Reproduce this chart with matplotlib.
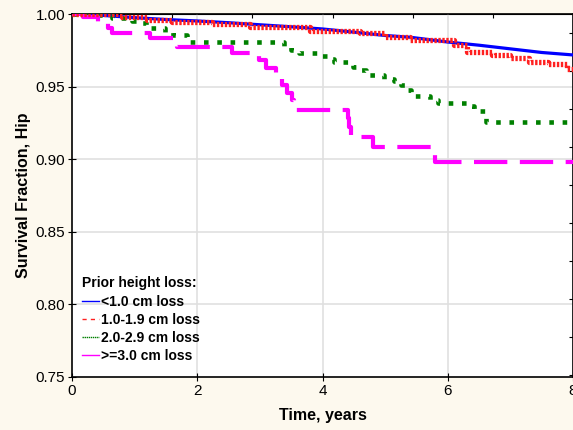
import numpy as np
import matplotlib
matplotlib.use('Agg')
from matplotlib import pyplot as plt
from matplotlib.lines import Line2D

plt.rcParams['font.family'] = ['Liberation Sans', 'DejaVu Sans']

# survival curves (time in years, survival fraction)
t_lt1 = [0, 0.5, 1.0, 1.5, 2.0, 2.5, 2.85, 3.5, 4.0, 4.5, 5.0, 5.4, 6.0, 6.5, 7.0, 7.5, 8.0]
s_lt1 = [1.0, 0.999, 0.9975, 0.9962, 0.9952, 0.994, 0.993, 0.9912, 0.9897, 0.9875, 0.9852, 0.984,
         0.9807, 0.9785, 0.976, 0.9735, 0.9718]

t_1to2 = [0, 0.8, 1.2, 1.6, 2.24, 2.85, 3.8, 4.6, 5.0, 5.4, 6.1, 6.3, 6.7, 7.0, 7.3, 7.6, 7.9, 8.0]
s_1to2 = [1.0, 0.998, 0.9959, 0.9947, 0.9931, 0.9912, 0.9885, 0.9869, 0.9844, 0.9821, 0.9786,
          0.9738, 0.9717, 0.9697, 0.9669, 0.9655, 0.9621, 0.9621]

t_2to3 = [0, 0.29, 0.64, 0.96, 1.09, 1.18, 1.49, 1.62, 1.84, 3.38, 3.50, 3.62, 3.94, 4.08, 4.19,
          4.48, 4.59, 4.70, 4.98, 5.14, 5.25, 5.34, 5.42, 5.71, 5.84, 6.34, 6.42, 6.61, 8.0]
s_2to3 = [1.0, 0.9993, 0.9972, 0.995, 0.9938, 0.9904, 0.9876, 0.9855, 0.9807, 0.978, 0.9752,
          0.9731, 0.9711, 0.969, 0.9669, 0.9635, 0.9614, 0.958, 0.9552, 0.9539, 0.9511, 0.9477,
          0.9435, 0.9408, 0.9387, 0.9366, 0.9332, 0.9256, 0.9256]

t_ge3 = [0, 0.18, 0.42, 0.58, 0.64, 1.25, 1.68, 2.56, 2.98, 3.10, 3.26, 3.36, 3.44, 3.52, 3.54,
         4.40, 4.42, 4.45, 4.80, 4.81, 5.80, 8.0]
s_ge3 = [1.0, 0.9979, 0.9938, 0.9904, 0.9869, 0.9835, 0.9773, 0.9731, 0.9683, 0.9628, 0.9559,
         0.9511, 0.9456, 0.9408, 0.9339, 0.9284, 0.9222, 0.9153, 0.9119, 0.9084, 0.898, 0.898]

labels = ['<1.0 cm loss', '1.0-1.9 cm loss', '2.0-2.9 cm loss', '>=3.0 cm loss']
colors = ['#0000ff', '#ff2020', '#008000', '#ff00ff']

bg = '#fdf9ee'
fig = plt.figure(figsize=(5.73, 4.30), dpi=100, facecolor=bg)
ax = fig.add_axes([72 / 573, 1 - 377 / 430, 501 / 573, 363 / 430])
ax.set_facecolor('white')

ax.plot(t_lt1, s_lt1, color=colors[0], lw=2.3, solid_capstyle='butt', zorder=3)
ax.plot(t_1to2, s_1to2, color=colors[1], lw=3.8, drawstyle='steps-post',
        linestyle=(0, (0.45, 0.3)), dash_capstyle='butt', zorder=4)
ax.plot(t_2to3, s_2to3, color=colors[2], lw=3.3, drawstyle='steps-post',
        linestyle=(0, (1, 1.9)), dash_capstyle='butt', zorder=3)
ax.plot(t_ge3, s_ge3, color=colors[3], lw=3.0, drawstyle='steps-post',
        linestyle=(0, (8, 3)), dash_capstyle='butt', zorder=3)

ax.set_xlim(0, 8)
ax.set_ylim(0.75, 1.0)
ax.set_xticks([0, 2, 4, 6, 8])
ax.set_yticks([0.75, 0.80, 0.85, 0.90, 0.95, 1.00])
ax.set_yticklabels(['0.75', '0.80', '0.85', '0.90', '0.95', '1.00'])
ax.tick_params(direction='inout', length=6, width=0.8, labelsize=11, pad=2)
for v in [2, 4, 6]:
    ax.axvline(v, color='#e0e0e0', lw=1.2, zorder=1)
for v in [0.80, 0.85, 0.90, 0.95]:
    ax.axhline(v, color='#e0e0e0', lw=1.2, zorder=1)

# little inward ticks on top and right
top = ax.secondary_xaxis('top')
top.set_xticks(np.arange(1.6, 7.9, 1.28))
top.tick_params(direction='in', length=3, labeltop=False)
right = ax.secondary_yaxis('right')
right.set_yticks(np.arange(0.98712, 0.75, -0.02617))
right.tick_params(direction='in', length=3, labelright=False)

for s in ax.spines.values():
    s.set_linewidth(1.2)

ax.set_xlabel('Time, years', fontsize=11.5, fontweight='bold', labelpad=7)
ax.set_ylabel('Survival Fraction, Hip', fontsize=11.5, fontweight='bold', labelpad=3)

handles = [
    Line2D([], [], color=colors[0], lw=1),
    Line2D([], [], color=colors[1], lw=1, linestyle=(0, (3, 3))),
    Line2D([], [], color=colors[2], lw=1, linestyle=(0, (1, 0.5))),
    Line2D([], [], color=colors[3], lw=1),
]
leg = ax.legend(handles, labels, loc='lower left', bbox_to_anchor=(-0.007, 0.0),
                frameon=False, title='Prior height loss:', alignment='left',
                prop={'weight': 'bold', 'size': 10}, handlelength=1.2, handletextpad=0.15,
                labelspacing=0.3, borderaxespad=0.6)
leg.get_title().set_fontweight('bold')
leg.get_title().set_fontsize(10)

fig.savefig('out.png', dpi=100, facecolor=bg)
